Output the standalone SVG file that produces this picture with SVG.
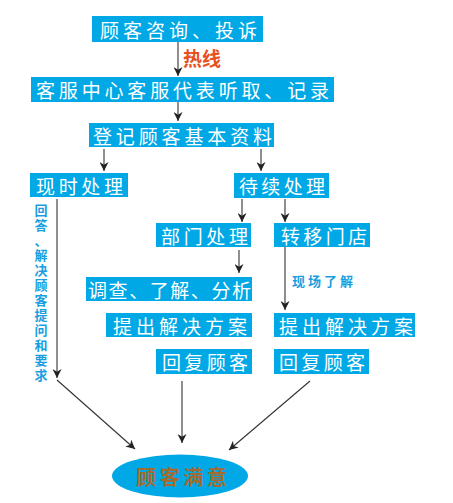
<svg xmlns="http://www.w3.org/2000/svg" width="453" height="503" viewBox="0 0 453 503">
<defs>
<style>
.box{fill:#00a8e6}
.bt{fill:#fff;font-family:"Noto Sans CJK SC","Noto Sans",sans-serif;font-size:19px;dominant-baseline:central}
.ln{stroke:#333;stroke-width:1.1;fill:none}
.blue{fill:#1a9ee0;font-family:"Noto Sans CJK SC",sans-serif;font-weight:bold;font-size:13px}
</style>
<marker id="ah" viewBox="0 0 10 10" refX="10" refY="5" markerWidth="9" markerHeight="9" markerUnits="userSpaceOnUse" orient="auto">
<path d="M0,0 L10,5 L0,10 L3,5 z" fill="#222"/>
</marker>
</defs>
<rect width="453" height="503" fill="#fff"/>
<g id="n1"><rect class="box" x="92" y="16" width="171" height="26"/><text class="bt" x="100" y="29" textLength="157" lengthAdjust="spacing">顾客咨询、投诉</text></g>
<g id="n2"><rect class="box" x="31" y="77" width="303" height="25"/><text class="bt" x="36" y="89.5" textLength="293" lengthAdjust="spacing">客服中心客服代表听取、记录</text></g>
<g id="n3"><rect class="box" x="89" y="123" width="185" height="24"/><text class="bt" x="93" y="135" textLength="179" lengthAdjust="spacing">登记顾客基本资料</text></g>
<g id="n4"><rect class="box" x="30" y="173" width="98" height="24"/><text class="bt" x="36" y="185" textLength="87" lengthAdjust="spacing">现时处理</text></g>
<g id="n5"><rect class="box" x="234" y="173" width="95" height="25"/><text class="bt" x="239" y="185.5" textLength="86" lengthAdjust="spacing">待续处理</text></g>
<g id="n6"><rect class="box" x="156" y="223" width="95" height="24"/><text class="bt" x="161" y="235" textLength="87" lengthAdjust="spacing">部门处理</text></g>
<g id="n7"><rect class="box" x="274" y="223" width="96" height="24"/><text class="bt" x="281" y="235" textLength="86" lengthAdjust="spacing">转移门店</text></g>
<g id="n8"><rect class="box" x="86" y="277" width="166" height="24"/><text class="bt" x="88" y="289" textLength="163" lengthAdjust="spacing">调查、了解、分析</text></g>
<g id="n9"><rect class="box" x="106" y="313" width="146" height="24"/><text class="bt" x="113" y="325" textLength="134" lengthAdjust="spacing">提出解决方案</text></g>
<g id="n10"><rect class="box" x="274" y="313" width="141" height="24"/><text class="bt" x="279" y="325" textLength="134" lengthAdjust="spacing">提出解决方案</text></g>
<g id="n11"><rect class="box" x="156" y="349" width="96" height="25"/><text class="bt" x="162" y="361.5" textLength="86" lengthAdjust="spacing">回复顾客</text></g>
<g id="n12"><rect class="box" x="274" y="349" width="95" height="25"/><text class="bt" x="279" y="361.5" textLength="86" lengthAdjust="spacing">回复顾客</text></g>
<g id="n13"><ellipse cx="180" cy="476" rx="68" ry="21.5" fill="#00a8e6"/><text x="136" y="476" textLength="91" lengthAdjust="spacing" fill="#a46a2e" font-family="Noto Sans CJK SC,sans-serif" font-weight="bold" font-size="20" dominant-baseline="central">顾客满意</text></g>
<g id="connectors">
<line class="ln" x1="178" y1="42" x2="178" y2="76" marker-end="url(#ah)"/>
<line class="ln" x1="178" y1="102" x2="178" y2="121" marker-end="url(#ah)"/>
<line class="ln" x1="104" y1="149" x2="104" y2="171" marker-end="url(#ah)"/>
<line class="ln" x1="261" y1="149" x2="261" y2="171" marker-end="url(#ah)"/>
<line class="ln" x1="242" y1="199" x2="242" y2="222" marker-end="url(#ah)"/>
<line class="ln" x1="285" y1="199" x2="285" y2="222" marker-end="url(#ah)"/>
<line class="ln" x1="239" y1="250" x2="239" y2="273" marker-end="url(#ah)"/>
<line class="ln" x1="285" y1="247" x2="285" y2="310" marker-end="url(#ah)"/>
<line class="ln" x1="57" y1="199" x2="57" y2="378" marker-end="url(#ah)"/>
<line class="ln" x1="57" y1="380" x2="135" y2="449" marker-end="url(#ah)"/>
<line class="ln" x1="182" y1="381" x2="182" y2="443" marker-end="url(#ah)"/>
<line class="ln" x1="310" y1="381" x2="229" y2="450" marker-end="url(#ah)"/>
<text x="183" y="66" fill="#e8501e" font-family="Noto Sans CJK SC,sans-serif" font-weight="bold" font-size="19">热线</text>
<text class="blue" x="292" y="285.5" textLength="61" lengthAdjust="spacing">现场了解</text>
<text class="blue" text-anchor="middle"><tspan x="41" y="215">回</tspan><tspan x="41" y="230">答</tspan><tspan x="41" y="245">、</tspan><tspan x="41" y="260">解</tspan><tspan x="41" y="275">决</tspan><tspan x="41" y="290">顾</tspan><tspan x="41" y="305">客</tspan><tspan x="41" y="320">提</tspan><tspan x="41" y="335">问</tspan><tspan x="41" y="350">和</tspan><tspan x="41" y="365">要</tspan><tspan x="41" y="380">求</tspan></text>
</g>
</svg>
